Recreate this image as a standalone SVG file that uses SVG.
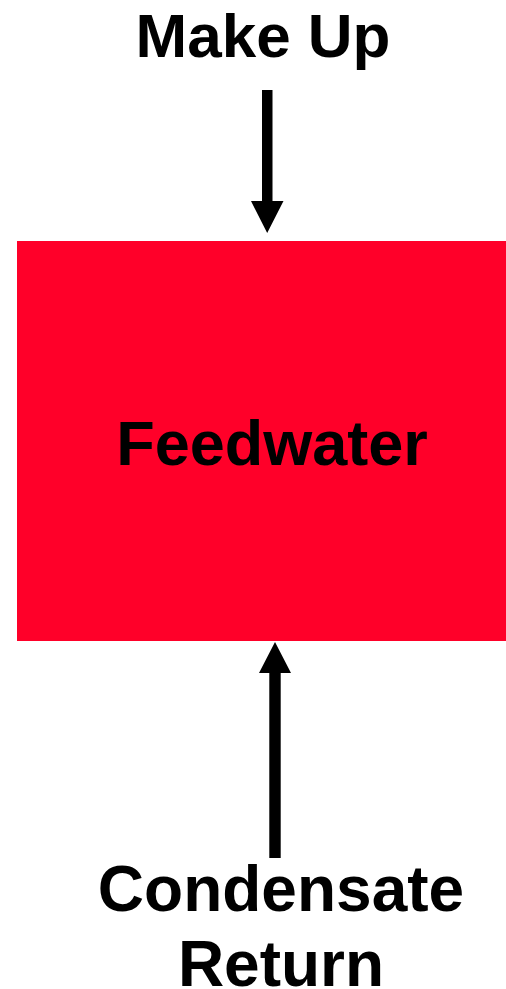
<svg xmlns="http://www.w3.org/2000/svg" width="506" height="989" viewBox="0 0 506 989">
<style>
.lbl{font-family:"Liberation Sans",Arial,sans-serif;font-weight:bold;fill:#000;text-anchor:middle}
.arr{fill:#000}
</style>
<rect width="506" height="989" fill="#fff"/>
<g id="makeup">
<text class="lbl" x="263" y="57" font-size="62">Make Up</text>
</g>
<g id="feedwater">
<rect x="17" y="241" width="489" height="400" fill="#FF0029"/>
<text class="lbl" x="272" y="465" font-size="63">Feedwater</text>
</g>
<g id="condensate">
<text class="lbl" x="281" y="911" font-size="64">Condensate</text>
<text class="lbl" x="281" y="986" font-size="64">Return</text>
</g>
<g id="connectors">
<polygon class="arr" points="262,90 272.5,90 272.5,201 283.5,201 267.2,233 251,201 262,201"/>
<polygon class="arr" points="269.3,858 280.7,858 280.7,673 291,673 275,642 259,673 269.3,673"/>
</g>
</svg>
